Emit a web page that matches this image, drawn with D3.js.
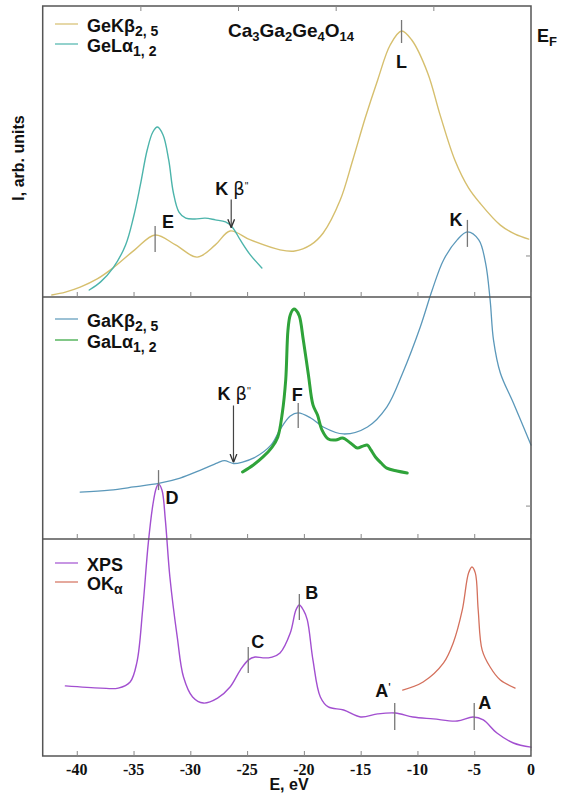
<!DOCTYPE html>
<html><head><meta charset="utf-8">
<script src="https://cdn.jsdelivr.net/npm/d3@7"></script>
<style>
html,body{margin:0;padding:0;background:#fff;}
svg{display:block;}
text{font-family:"Liberation Sans",Arial,sans-serif;font-weight:bold;fill:#111;}
</style></head>
<body>
<script>
// ---------- DATA ----------
const xTicks = [-40, -35, -30, -25, -20, -15, -10, -5, 0];
const xTickLabels = ["-40", "-35", "-30", "-25", "-20", "-15", "-10", "-5", "0"];
const topTicks = [-34.4, -25.8, -17.2, -8.6];

// Panel 1 (top)
const geKb25 = [[-42.2,0.7],[-41,1.7],[-39.7,3.4],[-38.2,6.2],[-36.8,10],[-34.9,16.2],[-33.1,21.3],[-31.3,17.9],[-29.4,13.7],[-27.8,17.9],[-26.5,22.7],[-24.7,19.6],[-22.1,16.2],[-20.8,15.8],[-19.4,17.9],[-18.3,22],[-16.8,33.3],[-15.7,47],[-14.6,61.5],[-13.5,74.6],[-12.4,86.6],[-11.4,91.4],[-10.5,88.3],[-9.1,77],[-8.0,62.5],[-6.7,47],[-5.5,37.5],[-4.5,32.3],[-2.7,24.7],[-1.4,21.6],[-0.2,19.9]];
const geLa12 = [[-38.9,2.4],[-37.9,5.2],[-36.8,10],[-35.7,17.9],[-35.0,27.5],[-34.4,38.5],[-33.8,50.5],[-33.3,56.7],[-32.9,58.4],[-32.4,55.7],[-31.9,47],[-31.5,36],[-31.0,29.2],[-30.4,27.1],[-29.6,26.8],[-28.7,27.1],[-27.8,26.5],[-26.9,25.8],[-26.3,24],[-25.6,19.6],[-24.7,14.4],[-23.7,10]];

// Panel 2 (middle)
const gaKb25 = [[-39.7,19.4],[-37.1,20.2],[-35.0,21.5],[-32.7,23.1],[-30.9,25.2],[-29.1,28.5],[-27.6,31.5],[-27.0,32.4],[-26.2,31.2],[-25.4,31.8],[-24.4,33.5],[-22.9,38.8],[-22.1,45.2],[-21.2,50.8],[-20.5,52.1],[-19.4,50.0],[-18.3,46.3],[-16.5,43.4],[-14.4,46.3],[-12.7,54.5],[-11.3,68.6],[-9.75,87.6],[-8.7,102.9],[-7.7,115.3],[-6.5,123.6],[-5.6,126.9],[-4.6,123.6],[-4.0,114],[-3.6,98.8],[-3.3,82.2],[-2.7,68.6],[-1.55,56.2],[0,38.8]];
const gaLa12 = [[-25.4,27.7],[-24.45,30.6],[-23.6,33.9],[-22.8,38.0],[-22.3,42.1],[-21.9,52.1],[-21.6,65.7],[-21.4,86.4],[-21.2,92.6],[-20.9,95.0],[-20.7,94.6],[-20.4,92.1],[-20.05,82.2],[-19.6,67.8],[-19.2,55.4],[-18.8,51.2],[-18.4,45.0],[-17.85,41.3],[-17.2,40.9],[-16.6,41.7],[-15.9,39.7],[-15.3,37.6],[-14.8,38.4],[-14.4,38.8],[-14.1,36.8],[-13.7,33.9],[-13.2,31.4],[-12.7,29.3],[-11.8,28.1],[-10.9,27.3]];

// Panel 3 (bottom)
const xps = [[-41.0,32.3],[-37.9,31.3],[-36.35,31.3],[-35.3,34.1],[-34.7,43.3],[-34.2,67.3],[-33.7,98.2],[-33.3,115.7],[-33.0,123.5],[-32.8,125.3],[-32.5,122.6],[-32.2,108.8],[-31.8,82.5],[-31.15,54.8],[-30.6,36.4],[-29.8,27.2],[-28.85,24.4],[-27.6,26.7],[-26.5,31.8],[-25.6,39.6],[-24.9,44.2],[-24.3,45.6],[-23.6,45.2],[-22.8,45.6],[-22.1,47.5],[-21.2,56.7],[-20.7,67.3],[-20.4,69.6],[-20.05,67.3],[-19.7,62.7],[-19.2,44.2],[-18.55,27.2],[-17.85,22.6],[-16.5,21.2],[-15.0,18.0],[-13.5,19.4],[-11.95,19.8],[-10.4,18.0],[-8.6,17.1],[-6.5,16.1],[-5.1,18.0],[-4.2,16.6],[-3.0,10.6],[-1.55,6.0],[0,4.1]];
const oKa = [[-11.3,30.4],[-9.5,34.1],[-7.7,42.9],[-6.85,52.1],[-6.05,67.3],[-5.5,84.3],[-5.2,87.1],[-4.9,84.3],[-4.65,67.3],[-4.3,48.8],[-3.6,41.0],[-2.7,35.0],[-1.4,31.3]];

// Peak markers: label, energy, intensity, panel
const markerNames  = ["L", "E", "K", "F", "D", "C", "B", "A'", "A"];
const markerE      = [-11.4, -33.1, -5.6, -20.5, -32.8, -24.9, -20.4, -12.0, -5.0];
const markerI      = [91.4, 21.3, 126.9, 52.1, 23.1, 44.2, 69.6, 19.8, 18.0];
const markerPanel  = [0, 0, 1, 1, 1, 2, 2, 2, 2];
// Kβ'' arrows: energy, intensity, panel
const arrowE = [-26.4, -26.2];
const arrowI = [23.5, 31.2];
const arrowPanel = [0, 1];
// right-axis ticks (intensity), per panel
const rightTickI = [14.1, 13.6];

// ---------- LAYOUT ----------
const W = 562, H = 794;
const L = 42.7, R = 531;
const panels = [[6, 297], [297, 539], [539, 756]];
const x = d3.scaleLinear().domain([-43, 0]).range([L, R]);
const ys = panels.map(p => d3.scaleLinear().domain([0, 100]).range([p[1], p[0]]));

const svg = d3.select("body").append("svg").attr("width", W).attr("height", H);

const col = {geK:"#d6bf6e", geL:"#4cb4ab", gaK:"#5b98ba", gaL:"#2fa33a", xps:"#a24fd0", ok:"#d4705c"};

// curves
const line = (ys_) => d3.line().x(d => x(d[0])).y(d => ys_(d[1])).curve(d3.curveCatmullRom.alpha(0.5));
function curve(data, panel, color, w) {
  svg.append("path").datum(data).attr("d", line(ys[panel]))
    .attr("fill", "none").attr("stroke", color).attr("stroke-width", w)
    .attr("stroke-linejoin", "round").attr("stroke-linecap", "round");
}
curve(geKb25, 0, col.geK, 1.4);
curve(geLa12, 0, col.geL, 1.4);
curve(gaKb25, 1, col.gaK, 1.3);
curve(gaLa12, 1, col.gaL, 3);
curve(xps, 2, col.xps, 1.4);
curve(oKa, 2, col.ok, 1.3);

// frame
const frameCol = "#555";
svg.append("rect").attr("x", L).attr("y", panels[0][0]).attr("width", R - L).attr("height", panels[2][1] - panels[0][0])
  .attr("fill", "none").attr("stroke", frameCol).attr("stroke-width", 1.5);
[297, 539].forEach(yy => svg.append("line").attr("x1", L).attr("x2", R).attr("y1", yy).attr("y2", yy)
  .attr("stroke", frameCol).attr("stroke-width", 1.3));

// ticks on each panel's bottom edge (pointing up)
const tickCol = "#888";
panels.forEach(p => {
  const axis = d3.axisBottom(x).tickValues(xTicks).tickSize(-5).tickFormat("");
  const g = svg.append("g").attr("transform", `translate(0,${p[1]})`).call(axis);
  g.select(".domain").remove();
  g.selectAll("line").attr("stroke", tickCol);
});
// top ticks (pointing down)
{
  const g = svg.append("g").attr("transform", `translate(0,${panels[0][0]})`)
    .call(d3.axisTop(x).tickValues(topTicks).tickSize(-5).tickFormat(""));
  g.select(".domain").remove();
  g.selectAll("line").attr("stroke", tickCol);
}
// right ticks
rightTickI.forEach((v, i) => {
  const yy = ys[i](v);
  svg.append("line").attr("x1", R - 5).attr("x2", R).attr("y1", yy).attr("y2", yy).attr("stroke", tickCol);
});

// tick labels
xTicks.forEach((t, i) => {
  svg.append("text").attr("x", x(t)).attr("y", 775).attr("text-anchor", "middle")
    .style("font-family", "'Liberation Serif','Times New Roman',serif").style("font-size", "16px")
    .text(xTickLabels[i]);
});
svg.append("text").attr("x", 289).attr("y", 790).attr("text-anchor", "middle").style("font-size", "16px").text("E, eV");
svg.append("text").attr("transform", "translate(24,158) rotate(-90)").attr("text-anchor", "middle")
  .style("font-size", "16px").text("I, arb. units");

// title
{
  const t = svg.append("text").attr("x", 228).attr("y", 37).style("font-size", "19px");
  const parts = [["Ca",0],["3",1],["Ga",0],["2",1],["Ge",0],["4",1],["O",0],["14",1]];
  parts.forEach(([s, sub]) => t.append("tspan").attr("baseline-shift", sub ? "-30%" : "0%")
    .style("font-size", sub ? "13px" : "19px").text(s));
}
{
  const t = svg.append("text").attr("x", 537).attr("y", 42).style("font-size", "18px");
  t.append("tspan").text("E");
  t.append("tspan").attr("baseline-shift", "-30%").style("font-size", "13px").text("F");
}

// legends
function legend(items, baseY) {
  items.forEach((it, i) => {
    const by = baseY[i];
    svg.append("line").attr("x1", 55).attr("x2", 78).attr("y1", by - 8).attr("y2", by - 8)
      .attr("stroke", it.color).attr("stroke-width", 1.2);
    const t = svg.append("text").attr("x", 87).attr("y", by).style("font-size", "18px");
    t.append("tspan").text(it.main);
    t.append("tspan").attr("baseline-shift", "-32%").style("font-size", "14px").text(it.sub);
  });
}
legend([{main:"GeKβ", sub:"2, 5", color:col.geK}, {main:"GeLα", sub:"1, 2", color:col.geL}], [32, 52]);
legend([{main:"GaKβ", sub:"2, 5", color:col.gaK}, {main:"GaLα", sub:"1, 2", color:col.gaL}], [327, 348]);
legend([{main:"XPS", sub:"", color:col.xps}, {main:"OK", sub:"α", color:col.ok}], [571, 590]);

// peak markers
const labelOffsets = {
  "L": {dx:0, dy:37, anchor:"middle", up:11, down:12},
  "E": {dx:7, dy:-7, anchor:"start", up:9, down:17},
  "K": {dx:-5, dy:-6, anchor:"end", up:12, down:15},
  "F": {dx:-1, dy:-12, anchor:"middle", up:10, down:15},
  "D": {dx:7, dy:21, anchor:"start", up:13, down:7},
  "C": {dx:3, dy:-12, anchor:"start", up:13, down:13},
  "B": {dx:6, dy:-6, anchor:"start", up:11, down:15},
  "A'": {dx:-4, dy:-16, anchor:"end", up:10, down:17},
  "A": {dx:4, dy:-8, anchor:"start", up:14, down:13}
};
markerNames.forEach((n, i) => {
  const o = labelOffsets[n];
  const px = x(markerE[i]), py = ys[markerPanel[i]](markerI[i]);
  svg.append("line").attr("x1", px).attr("x2", px).attr("y1", py - o.up).attr("y2", py + o.down)
    .attr("stroke", "#777").attr("stroke-width", 1.3);
  const t = svg.append("text").attr("x", px + o.dx).attr("y", py + o.dy).attr("text-anchor", o.anchor)
    .style("font-size", "18px");
  if (n === "A'") { t.append("tspan").text("A"); t.append("tspan").attr("baseline-shift", "35%").style("font-size", "13px").style("font-weight","normal").text("'"); }
  else t.text(n);
});

// Kβ'' arrows
const defs = svg.append("defs");
defs.append("marker").attr("id", "arr").attr("viewBox", "0 0 10 10").attr("refX", 10).attr("refY", 5)
  .attr("markerWidth", 7).attr("markerHeight", 7).attr("orient", "auto")
  .append("path").attr("d", "M0,1 L10,5 L0,9").attr("fill", "none").attr("stroke", "#333").attr("stroke-width", 1.6);
const arrowLen = [29, 58];
arrowE.forEach((e, i) => {
  const px = x(e), py = ys[arrowPanel[i]](arrowI[i]);
  svg.append("line").attr("x1", px).attr("x2", px).attr("y1", py - arrowLen[i]).attr("y2", py - 1)
    .attr("stroke", "#444").attr("stroke-width", 1.2).attr("marker-end", "url(#arr)");
  const t = svg.append("text").attr("x", px - 16).attr("y", py - arrowLen[i] - 5).style("font-size", "18px");
  t.append("tspan").text("K ");
  t.append("tspan").style("font-weight", "normal").style("font-family", "'DejaVu Sans',sans-serif").text("β");
  t.append("tspan").attr("baseline-shift", "55%").style("font-size", "10px").style("font-weight", "normal").text("''");
});
</script>
</body></html>
